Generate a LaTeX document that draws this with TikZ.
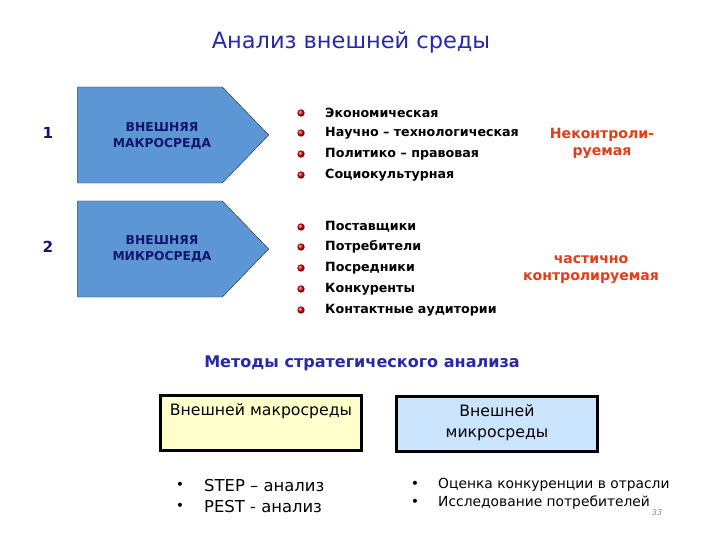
\documentclass[tikz,border=0pt]{standalone}
\usepackage{fontspec}
\setmainfont{DejaVu Sans}
\usetikzlibrary{shapes.symbols}

\definecolor{titleblue}{RGB}{40,40,170}
\definecolor{navy}{RGB}{20,20,110}
\definecolor{arrowfill}{RGB}{92,150,212}
\definecolor{labelred}{RGB}{228,60,25}
\definecolor{macrofill}{RGB}{255,255,204}
\definecolor{microfill}{RGB}{204,229,255}

\begin{document}
\begin{tikzpicture}[x=0.03cm,y=-0.03cm]
\tikzset{
  envarrow/.style={signal,signal to=east,signal pointer angle=92,draw=black!80,fill=arrowfill,
    minimum width=5.73cm,minimum height=2.88cm,inner sep=0pt},
  envtext/.style={align=center,font=\bfseries\fontsize{10.5}{13}\selectfont,text=navy},
  envnum/.style={font=\bfseries\fontsize{13}{15}\selectfont,text=navy},
  redball/.style={circle,ball color=red!85!black,minimum size=0.22cm,inner sep=0pt},
  factor/.style={anchor=west,font=\bfseries\fontsize{10.8}{12}\selectfont,inner sep=0pt},
  control/.style={align=center,font=\bfseries\fontsize{12}{14.5}\selectfont,text=labelred},
  methodbox/.style={draw,line width=1.8pt,minimum width=6.03cm,minimum height=1.65cm,inner sep=0pt},
  methodtext/.style={align=center,font=\fontsize{13.4}{18}\selectfont},
  dotitem/.style={anchor=west,inner sep=0pt}
}
\useasboundingbox (0,0) rectangle (720,540);

% title
\node[font=\fontsize{19.2}{23}\selectfont,text=titleblue] (title) at (351,42) {Анализ внешней среды};

% environments
\node[envnum] (num_1) at (48,133) {1};
\node[envnum] (num_2) at (48,247) {2};
\node[envarrow] (env_macro) at (150,135) {};
\node[envarrow] (env_micro) at (150,249) {};
\node[envtext] (txt_macro) at (162,136) {ВНЕШНЯЯ\\МАКРОСРЕДА};
\node[envtext] (txt_micro) at (162,249) {ВНЕШНЯЯ\\МИКРОСРЕДА};

% macro factors
\foreach \i/\y/\t in {1/113/Экономическая,2/133/Научно – технологическая,3/154/Политико – правовая,4/175/Социокультурная}{
  \node[redball] (ball_a_\i) at (301,\y) {};
  \node[factor] (fac_a_\i) at (325,\y) {\t};
}
% micro factors
\foreach \i/\y/\t in {1/227/Поставщики,2/247/Потребители,3/268/Посредники,4/289/Конкуренты,5/310/Контактные аудитории}{
  \node[redball] (ball_b_\i) at (301,\y) {};
  \node[factor] (fac_b_\i) at (325,\y) {\t};
}

\node[control] (ctrl_macro) at (602,143) {Неконтроли-\\руемая};
\node[control] (ctrl_micro) at (591,270) {частично\\контролируемая};

% methods
\node[font=\bfseries\fontsize{13.7}{16}\selectfont,text=titleblue] (methods) at (362,363) {Методы стратегического анализа};
\node[methodbox,fill=macrofill] (box_macro) at (261,423) {};
\node[methodbox,fill=microfill] (box_micro) at (497,424) {};
\node[methodtext,anchor=north] (txt_boxmacro) at (box_macro.north) [yshift=-4pt] {Внешней макросреды};
\node[methodtext,anchor=north] (txt_boxmicro) at (box_micro.north) [yshift=-4pt] {Внешней\\микросреды};

\foreach \i/\y/\t in {1/486/STEP – анализ,2/507/PEST - анализ}{
  \node[font=\large] (dot_l_\i) at (180,\y) {•};
  \node[dotitem,font=\fontsize{14}{16}\selectfont] (item_l_\i) at (204,\y) {\t};
}
\foreach \i/\y/\t in {1/485/Оценка конкуренции в отрасли,2/503/Исследование потребителей}{
  \node[font=\large] (dot_r_\i) at (415,\y) {•};
  \node[dotitem,font=\fontsize{11.8}{14}\selectfont] (item_r_\i) at (438,\y) {\t};
}
\node[font=\itshape\fontsize{7}{8}\selectfont,text=black!45] (page) at (657,513) {33};
\end{tikzpicture}
\end{document}
